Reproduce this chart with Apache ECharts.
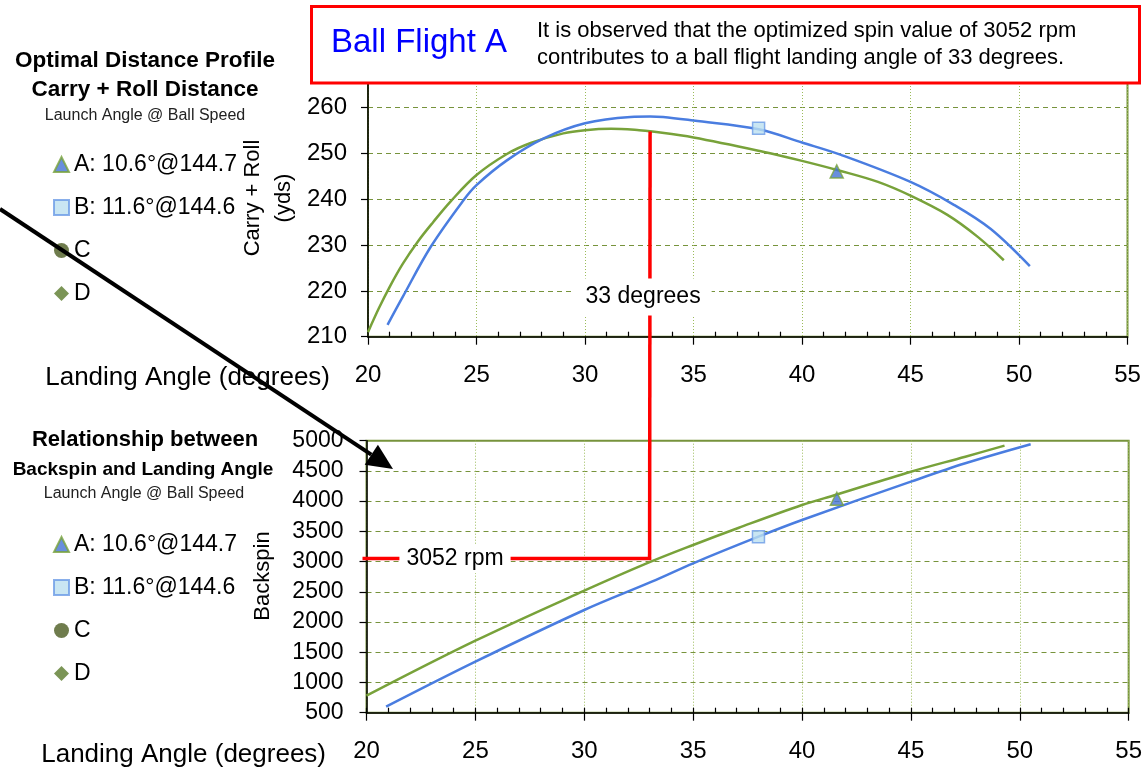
<!DOCTYPE html>
<html><head><meta charset="utf-8">
<script src="https://cdn.jsdelivr.net/npm/echarts@6/dist/echarts.min.js"></script>
<style>html,body{margin:0;padding:0;background:#fff}#c{width:1145px;height:771px}</style>
</head><body><div id="c"></div>
<script>
const FONT = '"Liberation Sans", Arial, Helvetica, sans-serif';

// ---- axes / ticks ----
const xMin = 20, xMax = 55, xStep = 5;
const carryMin = 210, carryMax = 265.4, carryStep = 10;
const spinMin = 500, spinMax = 5000, spinStep = 500;

// ---- legend names ----
const legendNames = ['A: 10.6°@144.7', 'B: 11.6°@144.6', 'C', 'D'];

// ---- top chart: Carry + Roll vs landing angle ----
const carryAngleA = [20.0, 20.5, 21.0, 21.6, 22.3, 23.0, 23.8, 25.0, 26.4, 27.5, 29.0, 30.0, 31.2, 32.5, 33.1, 35.0, 38.2, 40.0, 41.7, 43.5, 45.0, 46.7, 48.1, 49.3];
const carryA      = [211.0, 216.2, 220.9, 225.9, 230.8, 235.0, 239.5, 245.3, 249.9, 252.3, 254.4, 255.1, 255.4, 255.1, 254.8, 253.5, 250.4, 248.4, 246.3, 243.8, 240.8, 236.6, 231.8, 226.7];
const carryAngleB = [20.9, 21.6, 22.9, 24.4, 25.0, 26.4, 28.1, 30.0, 32.1, 33.0, 33.6, 35.0, 38.0, 40.0, 41.8, 45.0, 47.0, 48.7, 50.5];
const carryB      = [212.6, 218.7, 229.7, 239.8, 243.1, 248.5, 253.3, 256.6, 258.0, 258.1, 258.0, 257.2, 255.3, 252.4, 249.7, 243.8, 238.8, 233.5, 225.4];

// ---- bottom chart: Backspin vs landing angle ----
const spinAngleA = [20.0, 25.0, 30.0, 33.0, 35.0, 37.1, 40.0, 41.6, 45.0, 47.5, 49.3];
const spinA      = [781, 1691, 2518, 2990, 3275, 3560, 3936, 4110, 4487, 4735, 4918];
const spinAngleB = [20.9, 25.0, 30.0, 33.1, 35.0, 38.0, 40.0, 45.0, 47.5, 50.5];
const spinB      = [599, 1344, 2199, 2668, 2972, 3412, 3688, 4322, 4626, 4941];

// ---- markers A (triangle) and B (square) ----
const markerAngle = [41.6, 38.0];
const markerCarry = [246.1, 255.5];
const markerSpin  = [4040, 3412];

// ---- annotation ----
const annotAngle = 33, annotCarry = 254.8, annotSpin = 3052;

const GREEN = '#78A23A', BLUE = '#4A7DE0';
const zip = (a, b) => a.map((v, i) => [v, b[i]]);

const minorTop = [], minorBot = [];
for (let v = xMin; v <= xMax; v++) { minorBot.push(v); if (v % xStep) minorTop.push(v); }

function xAxisMain(g) {
  return {
    gridIndex: g, type: 'value', min: xMin, max: xMax, interval: xStep,
    axisLine: { show: true, onZero: false, lineStyle: { color: '#000', width: 1.5 } },
    axisTick: { show: true, inside: false, length: 8, lineStyle: { color: '#000', width: 1.2 } },
    axisLabel: { color: '#000', fontSize: 24, fontFamily: FONT, margin: 27 },
    splitLine: { show: true, lineStyle: { color: '#9BBB59', type: [1, 2], width: 1 } }
  };
}
function xAxisMinor(g, vals) {
  return {
    gridIndex: g, type: 'value', min: xMin, max: xMax, interval: 1, position: 'bottom',
    axisLine: { show: false, onZero: false },
    axisTick: { show: true, inside: true, length: 5, customValues: vals, lineStyle: { color: '#000', width: 1.2 } },
    axisLabel: { show: false }, splitLine: { show: false }
  };
}
function yAxis(g, min, max, step, fs, margin) {
  return {
    gridIndex: g, type: 'value', min: min, max: max, interval: step,
    axisLine: { show: true, lineStyle: { color: '#000', width: 1.5 } },
    axisTick: { show: true, inside: false, length: 7, lineStyle: { color: '#000', width: 1.2 } },
    axisLabel: { color: '#000', fontSize: fs, fontFamily: FONT, margin: margin, showMaxLabel: g === 0 ? false : true,
      formatter: v => String(v) },
    splitLine: { show: true, lineStyle: { color: '#77933C', type: [5, 4], width: 1 } }
  };
}
function curve(name, xi, yi, data, color) {
  return { name: name, type: 'line', xAxisIndex: xi, yAxisIndex: yi, data: data, smooth: 0.35,
    showSymbol: false, symbol: 'none', lineStyle: { color: color, width: 2.5 }, itemStyle: { color: color }, z: 3, silent: true };
}
const triStyle = { color: '#4472D4', borderColor: GREEN, borderWidth: 1.5 };
const sqStyle = { color: '#BCE0F0', borderColor: '#6B9BE6', borderWidth: 1.5 };

const chart = echarts.init(document.getElementById('c'), null, { renderer: 'canvas' });

const legendCommon = {
  orient: 'vertical', left: 48, itemWidth: 15, itemHeight: 15, itemGap: 20,
  textStyle: { color: '#000', fontSize: 23, fontFamily: FONT }, data: legendNames,
  selectedMode: false
};

const option = {
  animation: false,
  backgroundColor: '#fff',
  grid: [
    { left: 368, right: 17.5, top: 83, height: 253.7, show: true, borderColor: '#77933C', borderWidth: 2, backgroundColor: 'transparent' },
    { left: 366.5, right: 15, top: 440.7, height: 272, show: true, borderColor: '#77933C', borderWidth: 2, backgroundColor: 'transparent' }
  ],
  xAxis: [xAxisMain(0), xAxisMain(1), xAxisMinor(0, minorTop), xAxisMinor(1, minorBot)],
  yAxis: [yAxis(0, carryMin, carryMax, carryStep, 24, 21), yAxis(1, spinMin, spinMax, spinStep, 23, 23)],
  legend: [
    Object.assign({ top: 148 }, legendCommon),
    Object.assign({ top: 528 }, legendCommon)
  ],
  series: [
    curve('curve A', 0, 0, zip(carryAngleA, carryA), GREEN),
    curve('curve B', 0, 0, zip(carryAngleB, carryB), BLUE),
    curve('curve A2', 1, 1, zip(spinAngleA, spinA), GREEN),
    curve('curve B2', 1, 1, zip(spinAngleB, spinB), BLUE),
    { name: legendNames[0], type: 'scatter', xAxisIndex: 0, yAxisIndex: 0, symbol: 'triangle', symbolSize: 13,
      data: [[markerAngle[0], markerCarry[0]]], itemStyle: triStyle, z: 5 },
    { name: legendNames[0], type: 'scatter', xAxisIndex: 1, yAxisIndex: 1, symbol: 'triangle', symbolSize: 13,
      data: [[markerAngle[0], markerSpin[0]]], itemStyle: triStyle, z: 5 },
    { name: legendNames[1], type: 'scatter', xAxisIndex: 0, yAxisIndex: 0, symbol: 'rect', symbolSize: 12,
      data: [[markerAngle[1], markerCarry[1]]], itemStyle: sqStyle, z: 5 },
    { name: legendNames[1], type: 'scatter', xAxisIndex: 1, yAxisIndex: 1, symbol: 'rect', symbolSize: 12,
      data: [[markerAngle[1], markerSpin[1]]], itemStyle: sqStyle, z: 5 },
    { name: legendNames[2], type: 'scatter', xAxisIndex: 0, yAxisIndex: 0, symbol: 'circle', symbolSize: 13,
      data: [], itemStyle: { color: '#4B5B20' } },
    { name: legendNames[3], type: 'scatter', xAxisIndex: 0, yAxisIndex: 0, symbol: 'diamond', symbolSize: 14,
      data: [], itemStyle: { color: '#5A7A2C' } }
  ]
};
chart.setOption(option);

// ---- annotations placed through the chart's own scales ----
const pTop = chart.convertToPixel({ seriesIndex: 0 }, [annotAngle, annotCarry]);
const pBot = chart.convertToPixel({ seriesIndex: 2 }, [annotAngle, annotSpin]);
const pLeft = chart.convertToPixel({ seriesIndex: 2 }, [xMin, annotSpin]);

function txt(text, x, y, font, opts) {
  return Object.assign({ type: 'text', x: x, y: y, z: 60,
    style: Object.assign({ text: text, font: font, fill: '#000', textAlign: 'center', verticalAlign: 'middle', textVerticalAlign: 'middle' }, opts || {}) });
}
const RED = '#FF0000';
// arrow geometry
const tip = [393, 469], tail = [0, 209];
const ux = (tip[0] - tail[0]), uy = (tip[1] - tail[1]); const ul = Math.hypot(ux, uy);
const dx = ux / ul, dy = uy / ul, hl = 26, hw = 12;
const base = [tip[0] - hl * dx, tip[1] - hl * dy];

const graphics = [
  // title box
  { type: 'rect', z: 100, shape: { x: 311.5, y: 6.5, width: 828, height: 76.5 }, style: { fill: '#fff', stroke: RED, lineWidth: 3 } },
  { type: 'text', z: 101, x: 331, y: 43, style: { text: 'Ball Flight A', font: '33px ' + FONT, fill: '#0000FF', textAlign: 'left', verticalAlign: 'middle', textVerticalAlign: 'middle' } },
  { type: 'text', z: 101, x: 537, y: 44, style: { text: 'It is observed that the optimized spin value of 3052 rpm\ncontributes to a ball flight landing angle of 33 degrees.', font: '22px ' + FONT, lineHeight: 27, fill: '#000', textAlign: 'left', verticalAlign: 'middle', textVerticalAlign: 'middle' } },
  // side titles
  txt('Optimal Distance Profile', 145, 61, 'bold 22.5px ' + FONT),
  txt('Carry + Roll Distance', 145, 90, 'bold 22.5px ' + FONT),
  txt('Launch Angle @ Ball Speed', 145, 116, '16px ' + FONT, { fill: '#222' }),
  txt('Relationship between', 145, 440, 'bold 22px ' + FONT),
  txt('Backspin and Landing Angle', 143, 470, 'bold 19px ' + FONT),
  txt('Launch Angle @ Ball Speed', 144, 494, '16px ' + FONT, { fill: '#222' }),
  // axis titles
  txt('Landing Angle (degrees)', 330, 378, '26px ' + FONT, { textAlign: 'right' }),
  txt('Landing Angle (degrees)', 326, 755, '26px ' + FONT, { textAlign: 'right' }),
  Object.assign(txt('Carry + Roll\n(yds)', 268, 198, '22px ' + FONT, { lineHeight: 31 }), { rotation: Math.PI / 2 }),
  Object.assign(txt('Backspin', 263, 576, '22px ' + FONT), { rotation: Math.PI / 2 }),
  // red annotation lines
  { type: 'line', z: 50, shape: { x1: pTop[0], y1: pTop[1], x2: pBot[0], y2: pBot[1] + 1.5 }, style: { stroke: RED, lineWidth: 3.5 } },
  { type: 'line', z: 50, shape: { x1: pLeft[0] - 4, y1: pBot[1], x2: pBot[0] + 1.5, y2: pBot[1] }, style: { stroke: RED, lineWidth: 3.5 } },
  txt('33 degrees', pTop[0] - 7, 297, '23px ' + FONT, { backgroundColor: '#fff', padding: [7, 11] }),
  txt('3052 rpm', 455, pBot[1], '23px ' + FONT, { backgroundColor: '#fff', padding: [3, 7] }),
  // black arrow
  { type: 'polyline', z: 70, shape: { points: [tail, base] }, style: { stroke: '#000', lineWidth: 4, fill: null } },
  { type: 'polygon', z: 70, shape: { points: [tip, [base[0] - hw * dy, base[1] + hw * dx], [base[0] + hw * dy, base[1] - hw * dx]] }, style: { fill: '#000' } }
];
chart.setOption({ graphic: graphics });
</script>
</body></html>
